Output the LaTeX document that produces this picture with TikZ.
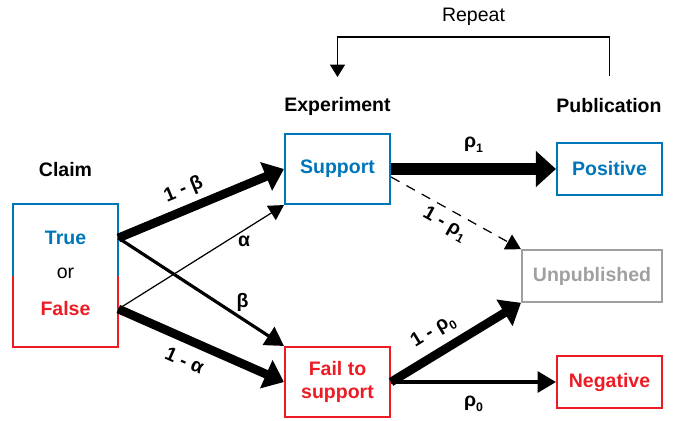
\documentclass[tikz,border=0pt]{standalone}
\usepackage{fontspec}
\setmainfont{Liberation Sans}
\usepackage{tikz}
\usetikzlibrary{arrows.meta}
\definecolor{yesblue}{RGB}{0,118,186}
\definecolor{nored}{RGB}{237,28,36}
\definecolor{mutegray}{RGB}{160,160,160}
\newcommand{\lowidx}[1]{\raisebox{-0.45ex}{\fontsize{7}{8}\selectfont #1}}

\begin{document}
\begin{tikzpicture}[
  x=0.02cm, y=-0.02cm,
  font=\fontsize{11.1}{13.3}\selectfont\bfseries,
  box/.style={draw, line width=1.2pt, minimum width=2.1cm, align=center, inner sep=0pt},
  expbox/.style={box, minimum height=1.4cm},
  pubbox/.style={box, minimum height=1.03cm},
  fine/.style={line width=0.7pt, -{Triangle[length=8.5pt,width=9.5pt]}},
  mid/.style={line width=1.8pt, -{Triangle[length=10.5pt,width=12pt]}},
  heavy/.style={line width=5pt, -{Triangle[length=11pt,width=17pt]}},
  wide/.style={line width=6.5pt, -{Triangle[length=11.5pt,width=20pt]}},
  loopline/.style={line width=0.6pt, -{Triangle[length=7pt,width=8.5pt]}}
]
  \useasboundingbox (0,0) rectangle (676,420);

  % column heads
  \node (claimhead) at (65.5,170) {Claim};
  \node (exphead) at (337.5,106) {Experiment};
  \node (pubhead) at (609,106) {Publication};

  % claim box, blue half over red half
  \node[minimum width=2.1cm, minimum height=2.86cm] (claim) at (65.5,275.5) {};
  \draw[yesblue, line width=1.2pt] (claim.west) |- (claim.north east) -- (claim.east);
  \draw[nored, line width=1.2pt] (claim.west) |- (claim.south east) -- (claim.east);
  \node[yesblue] (true) at (65.5,238) {True};
  \node[font=\fontsize{11.1}{13.3}\selectfont] (or) at (65.5,273) {or};
  \node[nored] (false) at (65.5,309) {False};

  % experiment outcomes
  \node[expbox, draw=yesblue, text=yesblue] (support) at (337.5,169) {Support};
  \node[expbox, draw=nored, text=nored] (fail) at (337.5,382) {Fail to\\support};

  % publication outcomes
  \node[pubbox, draw=yesblue, text=yesblue] (positive) at (609.5,169) {Positive};
  \node[pubbox, draw=mutegray, text=mutegray, minimum width=2.8cm] (unpub) at (592,276) {Unpublished};
  \node[pubbox, draw=nored, text=nored] (negative) at (609.5,382) {Negative};

  % claim -> experiment
  \draw[heavy] (claim.east |- true) -- node[sloped, above, pos=0.44] {1 - β} (support.west);
  \draw[fine] (claim.east |- false) -- node[below, pos=0.76] {α} (support.south west);
  \draw[mid] (claim.east |- true) -- node[above, pos=0.75] {β} (fail.north west);
  \draw[heavy] (claim.east |- false) -- node[sloped, below=2pt, pos=0.45] {1 - α} (fail.west);

  % experiment -> publication
  \draw[wide] (support.east) -- node[above=3pt, pos=0.5] {ρ\lowidx{1}} (positive.west);
  \draw[fine, dash pattern=on 5.5pt off 4.5pt] ([yshift=-1.6mm]support.east) -- node[sloped, below, pos=0.47] {1 - ρ\lowidx{1}} (unpub.north west);
  \draw[heavy] (fail.east) -- node[sloped, above=1pt, pos=0.41] {1 - ρ\lowidx{0}} (unpub.south west);
  \draw[mid] (fail.east) -- node[below=4pt, pos=0.5] {ρ\lowidx{0}} (negative.west);

  % repeat loop
  \coordinate (pubtop) at (609.5,76);
  \coordinate (exptop) at (337.5,77);
  \draw[loopline] (pubtop) -- ++(0,-39) -| node[pos=0.25, above=3pt, font=\fontsize{11.1}{13.3}\selectfont] {Repeat} (exptop);
\end{tikzpicture}
\end{document}
